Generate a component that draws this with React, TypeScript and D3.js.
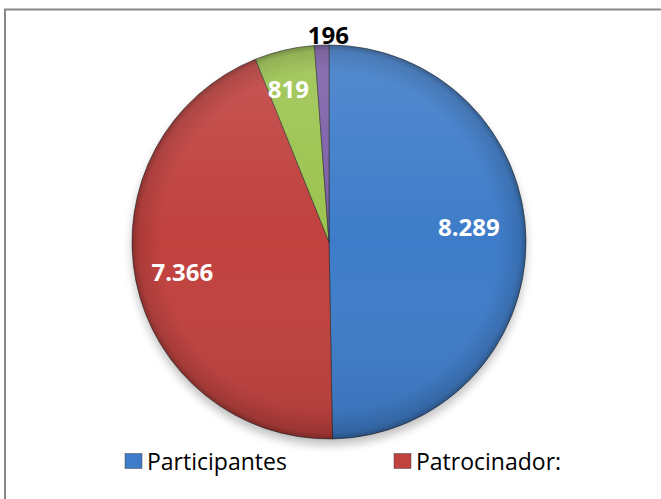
import React from "react";
import * as d3 from "d3";

const categories = ["Participantes", "Patrocinador:", "Otros", "Resto"];
const values = [8289, 7366, 819, 196];
const labels = ["8.289", "7.366", "819", "196"];
const colors = ["#3e7cc9", "#c0413e", "#9bc34e", "#7d5fa8"];
const legendItems = ["Participantes", "Patrocinador:"];

const W = 661;
const H = 499;

const App = () => {
  const cx = 329;
  const cy = 242;
  const radius = 197;

  const pie = d3
    .pie<number>()
    .sort(null)
    .value((d) => d);
  const arcs = pie(values);

  const arc = d3.arc<d3.PieArcDatum<number>>().innerRadius(0).outerRadius(radius);
  // label radius per slice, roughly as Excel placed them
  const labelRadius = [0.74, 0.76, 0.8, 1.06];
  const labelShift = [
    [-6, -14],
    [0, 0],
    [-5, 0],
    [7, 1],
  ];

  const legendX = d3.scalePoint<string>().domain(legendItems).range([125, 394]);

  return (
    <svg
      width={W}
      height={H}
      style={{ position: "absolute", left: 0, top: 0, fontFamily: "'Open Sans', sans-serif" }}
    >
      <defs>
        <radialGradient id="bevel" cx="50%" cy="50%" r="50%">
          <stop offset="0.86" stopColor="#000" stopOpacity={0} />
          <stop offset="0.97" stopColor="#000" stopOpacity={0.12} />
          <stop offset="1" stopColor="#000" stopOpacity={0.3} />
        </radialGradient>
        <linearGradient id="shade" x1="0" y1="0" x2="0" y2="1">
          <stop offset="0" stopColor="#fff" stopOpacity={0.12} />
          <stop offset="0.5" stopColor="#fff" stopOpacity={0} />
          <stop offset="1" stopColor="#000" stopOpacity={0.1} />
        </linearGradient>
        <filter id="blur" x="-20%" y="-20%" width="140%" height="140%">
          <feGaussianBlur stdDeviation="5" />
        </filter>
      </defs>
      <rect x={0} y={0} width={W} height={H} fill="#fff" />
      <rect x={5} y={9.5} width={W + 10} height={H + 10} fill="none" stroke="#878787" strokeWidth={2} />

      <g transform={`translate(${cx},${cy})`}>
        {/* soft shadow under the pie */}
        <ellipse cx={0} cy={6} rx={radius} ry={radius} fill="#000" opacity={0.25} filter="url(#blur)" />
        {arcs.map((a, i) => (
          <path key={categories[i]} d={arc(a) || ""} fill={colors[i]} stroke="#2a2a2a" strokeWidth={0.6} />
        ))}
        <circle r={radius} fill="url(#shade)" />
        <circle r={radius} fill="url(#bevel)" />
        {arcs.map((a, i) => {
          const r = radius * labelRadius[i];
          const [x, y] = d3.arc<d3.PieArcDatum<number>>().innerRadius(r).outerRadius(r).centroid(a);
          const outside = labelRadius[i] > 1;
          return (
            <text
              key={labels[i]}
              x={x + labelShift[i][0]}
              y={y + labelShift[i][1]}
              textAnchor="middle"
              dominantBaseline="central"
              fontWeight="bold"
              fontSize={24}
              fill={outside ? "#000" : "#fff"}
            >
              {labels[i]}
            </text>
          );
        })}
      </g>

      <g>
        {legendItems.map((name, i) => (
          <g key={name} transform={`translate(${legendX(name)},461)`}>
            <rect x={0} y={-7.5} width={17} height={15} fill={colors[i]} stroke="#444" strokeWidth={0.5} />
            <text x={22} y={0} dominantBaseline="central" fontSize={23} fill="#000">
              {name}
            </text>
          </g>
        ))}
      </g>
    </svg>
  );
};

export default App;
